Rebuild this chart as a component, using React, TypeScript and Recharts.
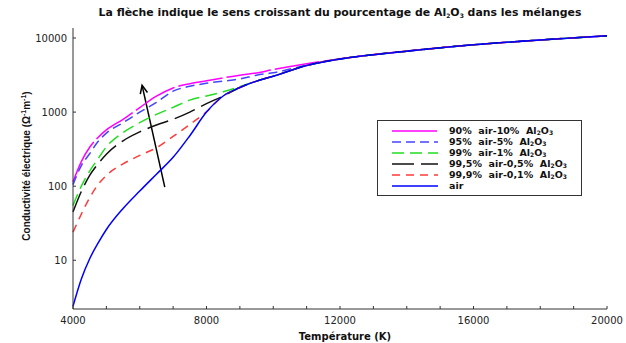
import { LineChart, Line, XAxis, YAxis, Legend, ReferenceLine } from "recharts"

// temperature grid (K)
const temps = [4000, 4250, 4500, 4750, 5000, 5500, 6000, 6500, 7000, 7500, 8000, 8500, 9000, 9500, 10000, 11000, 12000, 13000, 14000, 16000, 18000, 20000]

// conductivity values (S/m)
const air = [2.4, 5.6, 10.5, 17, 26, 50, 86, 145, 245, 480, 1000, 1650, 2150, 2620, 3050, 4250, 5200, 5950, 6650, 8100, 9400, 10700]
const mix90 = [115, 215, 335, 455, 575, 800, 1150, 1640, 2120, 2420, 2650, 2900, 3150, 3380, 3750, 4500, 5250, 5980, 6680, 8120, 9420, 10700]
const mix95 = [105, 190, 275, 400, 520, 720, 1000, 1350, 1920, 2230, 2450, 2620, 2800, 3150, 3400, 4300, 5200, 5960, 6660, 8110, 9410, 10700]
const mix99 = [55, 100, 160, 235, 340, 530, 720, 930, 1160, 1450, 1650, 1880, 2200, 2620, 3050, 4250, 5200, 5950, 6650, 8100, 9400, 10700]
const mix995 = [45, 85, 140, 200, 270, 410, 540, 670, 800, 1000, 1300, 1650, 2150, 2620, 3050, 4250, 5200, 5950, 6650, 8100, 9400, 10700]
const mix999 = [24, 42, 70, 105, 140, 200, 260, 330, 470, 680, 1010, 1650, 2150, 2620, 3050, 4250, 5200, 5950, 6650, 8100, 9400, 10700]

const xTicks = [4000, 5000, 6000, 7000, 8000, 9000, 10000, 11000, 12000, 13000, 14000, 15000, 16000, 17000, 18000, 19000, 20000]
const xLabelTicks = [4000, 8000, 12000, 16000, 20000]
const yTicks = [10, 100, 1000, 10000]
const yMinorTicks = [3, 4, 5, 6, 7, 8, 9, 10, 20, 30, 40, 50, 60, 70, 80, 90, 100, 200, 300, 400, 500, 600, 700, 800, 900, 1000, 2000, 3000, 4000, 5000, 6000, 7000, 8000, 9000, 10000]
const yDomain = [2.2, 13650]

// arrow annotation (T, sigma)
const arrowFrom = { x: 6750, y: 97 }
const arrowTo = { x: 6070, y: 2300 }

const data = temps.map((t, i) => ({
  t,
  m90: mix90[i],
  m95: mix95[i],
  m99: mix99[i],
  m995: mix995[i],
  m999: mix999[i],
  air: air[i],
}))

const subStyle = { fontSize: 6, verticalAlign: "baseline", position: "relative" as const, top: 1.5 }

const Al2O3 = () => (
  <>
    Al<span style={subStyle}>2</span>O<span style={subStyle}>3</span>
  </>
)

const series = [
  { key: "m90", color: "#ff00ff", dash: "45 4", label: <>90%&nbsp; air-10%&nbsp; <Al2O3 /></> },
  { key: "m95", color: "#4444ff", dash: "9 5", label: <>95%&nbsp; air-5%&nbsp; <Al2O3 /></> },
  { key: "m99", color: "#22dd22", dash: "12 6", label: <>99%&nbsp; air-1%&nbsp; <Al2O3 /></> },
  { key: "m995", color: "#111111", dash: "22 7", label: <>99,5%&nbsp; air-0,5%&nbsp; <Al2O3 /></> },
  { key: "m999", color: "#ff3b3b", dash: "8 6", label: <>99,9%&nbsp; air-0,1%&nbsp; <Al2O3 /></> },
  { key: "air", color: "#0000ff", dash: undefined, label: <>air</> },
]

const tickStyle = { fontFamily: "DejaVu Sans", fontSize: 10, fill: "#222" }

const Arrow = (p: any) => {
  const { x1, y1, x2, y2 } = p
  const a = Math.atan2(y2 - y1, x2 - x1)
  const h = 9
  const w = 0.42
  const ax = x2 - h * Math.cos(a - w)
  const ay = y2 - h * Math.sin(a - w)
  const bx = x2 - h * Math.cos(a + w)
  const by = y2 - h * Math.sin(a + w)
  return (
    <g>
      <line x1={x1} y1={y1} x2={x2} y2={y2} stroke="#000" strokeWidth={1.5} />
      <polyline points={`${ax},${ay} ${x2},${y2} ${bx},${by}`} fill="none" stroke="#000" strokeWidth={1.5} />
    </g>
  )
}

const LegendBox = () => (
  <div
    style={{
      width: 203,
      border: "1px solid #333",
      background: "#fff",
      padding: "4px 0",
      fontFamily: "DejaVu Sans",
      fontWeight: "bold",
      fontSize: 9.5,
      color: "#111",
    }}
  >
    {series.map((s) => (
      <div key={s.key} style={{ display: "flex", alignItems: "center", height: 11 }}>
        <svg width={46} height={6} style={{ marginLeft: 14, marginRight: 11 }}>
          <line x1={0} y1={3} x2={46} y2={3} stroke={s.color} strokeWidth={1.5} strokeDasharray={s.dash} />
        </svg>
        <span style={{ lineHeight: "11px", whiteSpace: "nowrap" }}>{s.label}</span>
      </div>
    ))}
  </div>
)

export default function App() {
  return (
    <div style={{ position: "absolute", left: 0, top: 0, width: 626, height: 343, background: "#fff" }}>
      <div
        style={{
          position: "absolute",
          left: 60,
          top: 6,
          width: 560,
          textAlign: "center",
          fontFamily: "DejaVu Sans",
          fontWeight: "bold",
          fontSize: 10.9,
          lineHeight: "13px",
          color: "#111",
          whiteSpace: "nowrap",
        }}
      >
        La flèche indique le sens croissant du pourcentage de <Al2O3 /> dans les mélanges
      </div>
      <LineChart width={626} height={343} data={data} margin={{ top: 28, right: 19, bottom: 14, left: 13 }}>
        <XAxis
          dataKey="t"
          type="number"
          domain={[4000, 20000]}
          ticks={xTicks}
          interval={0}
          tickSize={-3}
          tickMargin={11}
          tickFormatter={(v: number) => (xLabelTicks.includes(v) ? String(v) : "")}
          tick={tickStyle}
          stroke="#333"
          height={20}
          label={{
            content: () => (
              <text x={345} y={340} textAnchor="middle" fontFamily="DejaVu Sans" fontWeight="bold" fontSize={10} fill="#111">
                Température (K)
              </text>
            ),
          }}
        />
        <XAxis
          xAxisId="top"
          orientation="top"
          dataKey="t"
          type="number"
          domain={[4000, 20000]}
          ticks={xTicks}
          interval={0}
          tickSize={-3}
          tickFormatter={() => ""}
          stroke="#333"
          height={0}
        />
        <YAxis
          type="number"
          scale="log"
          domain={yDomain}
          allowDataOverflow
          ticks={yTicks}
          interval={0}
          tickSize={-3}
          tickMargin={9}
          tick={tickStyle}
          stroke="#333"
          width={60}
          label={{
            content: () => (
              <text transform="translate(30,166) rotate(-90)" textAnchor="middle" fontFamily="Liberation Sans" fontWeight="bold" fontSize={10} fill="#111">
                Conductivité électrique (Ω<tspan dy={-4} fontSize={7}>-1</tspan>
                <tspan dy={4}>m</tspan>
                <tspan dy={-4} fontSize={7}>-1</tspan>
                <tspan dy={4}>)</tspan>
              </text>
            ),
          }}
        />
        <YAxis
          yAxisId="right"
          orientation="right"
          type="number"
          scale="log"
          domain={yDomain}
          allowDataOverflow
          ticks={yMinorTicks}
          interval={0}
          tickSize={-3}
          tickFormatter={() => ""}
          stroke="#333"
          width={0}
        />
        <ReferenceLine segment={[arrowFrom, arrowTo]} shape={Arrow} />
        <Legend
          layout="horizontal"
          verticalAlign="middle"
          align="center"
          wrapperStyle={{ left: 377, top: 120, width: 205 }}
          content={() => <LegendBox />}
        />
        {series.map((s) => (
          <Line
            key={s.key}
            dataKey={s.key}
            type="monotone"
            stroke={s.color}
            strokeWidth={1.5}
            strokeDasharray={s.dash}
            dot={false}
            isAnimationActive={false}
          />
        ))}
      </LineChart>
    </div>
  )
}
